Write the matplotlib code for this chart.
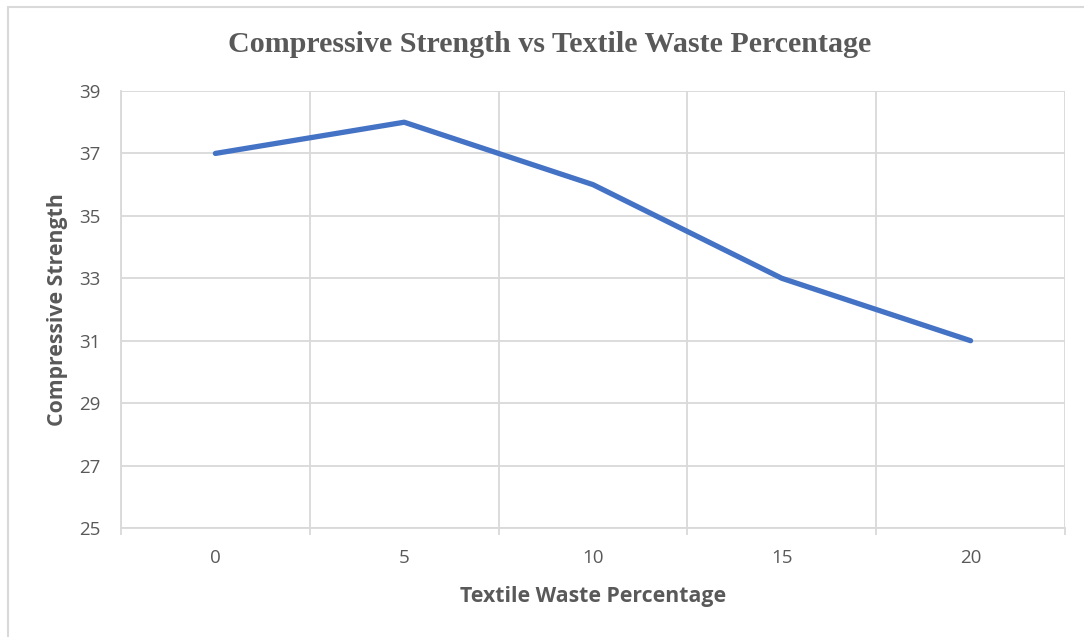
import matplotlib.pyplot as plt
from matplotlib.patches import Rectangle
import numpy as np

categories = ["0", "5", "10", "15", "20"]
strength = [37, 38, 36, 33, 31]
y_ticks = [25, 27, 29, 31, 33, 35, 37, 39]

W, H = 1084, 637
GRID = "#d9d9d9"
TEXT = "#595959"

fig = plt.figure(figsize=(W / 100, H / 100), dpi=100)

# chart border (runs off the right and bottom edges)
fig.patches.append(Rectangle((8 / W, -0.1), 1.2, (H - 7) / H + 0.1,
                             transform=fig.transFigure, fill=False,
                             edgecolor=GRID, linewidth=1.5))

left, top, right, bottom = 121, 91, 1065, 528
ax = fig.add_axes([left / W, (H - bottom) / H, (right - left) / W, (bottom - top) / H])

x = np.arange(len(categories))
ax.plot(x, strength, color="#4472c4", linewidth=3.8, solid_capstyle="round", zorder=3)

ax.set_xlim(-0.5, len(categories) - 0.5)
ax.set_ylim(y_ticks[0], y_ticks[-1])

ax.set_xticks(x)
ax.set_xticklabels(categories)
ax.set_xticks(np.arange(-0.5, len(categories), 1.0), minor=True)
ax.set_yticks(y_ticks)

ax.grid(which="minor", axis="x", color=GRID, linewidth=1.3)
ax.grid(which="major", axis="y", color=GRID, linewidth=1.3)
ax.tick_params(axis="x", which="major", length=0, pad=15, labelsize=13.5, labelcolor=TEXT)
ax.tick_params(axis="x", which="minor", length=5, width=1.3, color=GRID)
ax.tick_params(axis="y", length=0, pad=15, labelsize=13.5, labelcolor=TEXT)
for lbl in ax.get_xticklabels() + ax.get_yticklabels():
    lbl.set_family("Open Sans")

for side in ["top", "right", "bottom", "left"]:
    ax.spines[side].set_color(GRID)
    ax.spines[side].set_linewidth(1.3)
ax.spines["top"].set_visible(False)
ax.spines["right"].set_visible(False)

ax.set_xlabel("Textile Waste Percentage", fontsize=15.3, fontweight="bold",
              color=TEXT, family="Open Sans", labelpad=14)
ax.set_ylabel("Compressive Strength", fontsize=15.3, fontweight="bold",
              color=TEXT, family="Open Sans", labelpad=7.5)

fig.text(550 / W, 1 - 44 / H, "Compressive Strength vs Textile Waste Percentage",
         ha="center", va="center", fontsize=21.6, fontweight="bold",
         color=TEXT, family="Liberation Serif")

fig.savefig("out.png", dpi=100, facecolor="white")
